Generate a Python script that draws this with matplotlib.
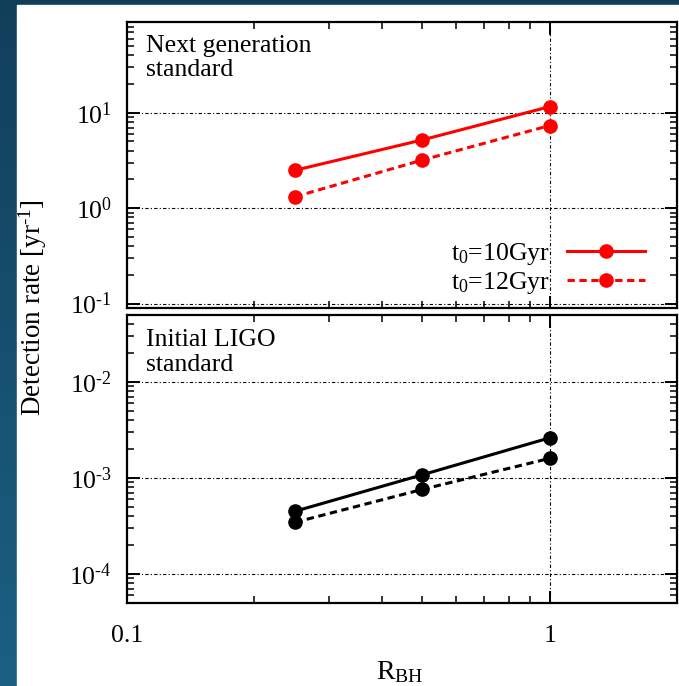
import matplotlib
matplotlib.use('Agg')
import matplotlib.pyplot as plt
import numpy as np
from matplotlib.ticker import FixedLocator, FixedFormatter, NullFormatter, LogLocator, FuncFormatter
from matplotlib.colors import LinearSegmentedColormap

plt.rcParams['font.family'] = ['Liberation Serif', 'DejaVu Serif']
plt.rcParams['mathtext.fontset'] = 'custom'
plt.rcParams['mathtext.rm'] = 'Liberation Serif'
plt.rcParams['mathtext.it'] = 'Liberation Serif:italic'
plt.rcParams['mathtext.bf'] = 'Liberation Serif:bold'
plt.rcParams['font.size'] = 18.5

# Black hole fraction and detection rates [1/yr]
r_bh = [0.25, 0.5, 1.0]
next_gen_10 = [2.5, 5.2, 11.6]
next_gen_12 = [1.32, 3.2, 7.35]
ligo_10 = [4.5e-4, 1.08e-3, 2.62e-3]
ligo_12 = [3.45e-4, 7.6e-4, 1.6e-3]

labels = ['t$_0$=10Gyr', 't$_0$=12Gyr']
panel_titles = ['Next generation\nstandard', 'Initial LIGO\nstandard']
x_ticks = [0.1, 1]
x_ticklabels = ['0.1', '1']

W, H = 679, 686
fig = plt.figure(figsize=(W / 100, H / 100), dpi=100)

# slide background: dark blue frame on the left and top
bg = fig.add_axes([0, 0, 1, 1])
cmap = LinearSegmentedColormap.from_list('slide', ['#113f5a', '#1b6082'])
grad = np.linspace(0, 1, 256).reshape(-1, 1)
bg.imshow(grad, cmap=cmap, aspect='auto', extent=[0, 1, 0, 1], origin='upper')
bg.add_patch(plt.Rectangle((17 / W, 0), 1, 1 - 5 / H, color='white', zorder=2))
bg.set_xlim(0, 1)
bg.set_ylim(0, 1)
bg.axis('off')

left, right = 127 / W, 677 / W
ax1 = fig.add_axes([left, 1 - 308 / H, right - left, (308 - 21.7) / H])
ax2 = fig.add_axes([left, 1 - 602.7 / H, right - left, (602.7 - 315) / H])

grid_style = dict(color='black', lw=0.8, linestyle=(0, (3, 2, 1, 2)))


def exp_label(v, pos):
    e = int(round(np.log10(v)))
    if e < 0:
        return '10$^{\\text{-}%d}$' % -e
    return '10$^{%d}$' % e


def style_axis(ax, ylim, decades):
    ax.set_xscale('log')
    ax.set_yscale('log')
    ax.set_xlim(0.1, 2)
    ax.set_ylim(*ylim)
    ax.xaxis.set_major_locator(FixedLocator(x_ticks))
    ax.xaxis.set_major_formatter(FixedFormatter(x_ticklabels))
    ax.xaxis.set_minor_locator(FixedLocator([0.2, 0.3, 0.4, 0.5, 0.6, 0.7, 0.8, 0.9]))
    ax.xaxis.set_minor_formatter(NullFormatter())
    ax.yaxis.set_major_locator(FixedLocator(decades))
    ax.yaxis.set_major_formatter(FuncFormatter(exp_label))
    ax.yaxis.set_minor_locator(LogLocator(base=10, subs=np.arange(2, 10), numticks=20))
    ax.yaxis.set_minor_formatter(NullFormatter())
    ax.tick_params(which='both', direction='in', top=True, right=True)
    ax.tick_params(which='major', length=9, width=1.4)
    ax.tick_params(which='minor', length=5, width=1.1)
    ax.tick_params(axis='y', which='major', pad=11)
    for s in ax.spines.values():
        s.set_linewidth(1.6)
    for d in decades:
        ax.axhline(d, zorder=0, **grid_style)
    ax.axvline(1, zorder=0, **grid_style)


style_axis(ax1, (0.09, 90), [0.1, 1, 10])
style_axis(ax2, (5e-5, 0.05), [1e-4, 1e-3, 1e-2])

ax1.plot(r_bh, next_gen_10, '-o', color='red', lw=2.2, ms=9.5, label=labels[0])
ax1.plot(r_bh, next_gen_12, 'o', color='red', lw=2.2, ms=9.5, linestyle=(0, (2.4, 1.5)),
         label=labels[1])
ax2.plot(r_bh, ligo_10, '-o', color='black', lw=2.2, ms=9.5)
ax2.plot(r_bh, ligo_12, 'o', color='black', lw=2.2, ms=9.5, linestyle=(0, (2.4, 1.5)))

ax1.tick_params(axis='x', labelbottom=False)
ax2.tick_params(axis='x', which='major', pad=16)

ax1.text(0.035, 0.955, panel_titles[0], transform=ax1.transAxes, va='top', ha='left',
         linespacing=1.15)
ax2.text(0.035, 0.95, panel_titles[1], transform=ax2.transAxes, va='top', ha='left',
         linespacing=1.15)

ax1.legend(loc='lower right', bbox_to_anchor=(0.97, -0.012), frameon=False, markerfirst=False,
           numpoints=1, handlelength=3.05, handletextpad=0.65, labelspacing=0.12,
           borderaxespad=0.2)

fig.text(33 / W, 1 - 308 / H, 'Detection rate [yr$^{\\text{-}1}$]', rotation=90,
         ha='center', va='center', fontsize=19.5)
fig.text(400 / W, 1 - 679 / H, 'R$_{\\rm BH}$', ha='center', va='baseline', fontsize=20)

fig.savefig('out.png', dpi=100)
